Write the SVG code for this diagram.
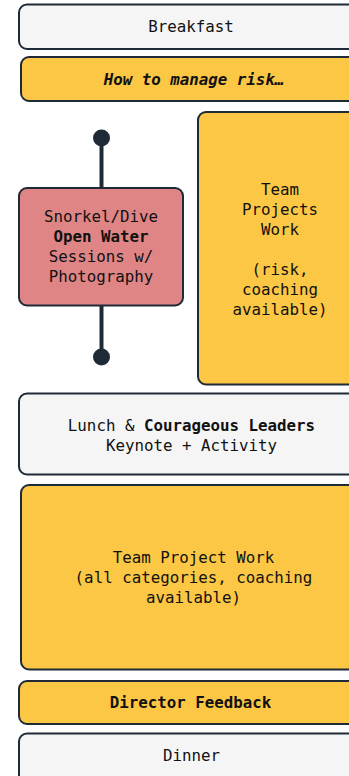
<svg xmlns="http://www.w3.org/2000/svg" width="349" height="776" viewBox="0 0 349 776">
<style>
.box{stroke:#1f2a37;stroke-width:2}
.gray{fill:#f5f5f5}
.yellow{fill:#fcc744}
.pink{fill:#e08585}
text{font-family:"DejaVu Sans Mono","Liberation Mono",monospace;font-size:15.8px;fill:#111;text-anchor:middle}
.b{font-weight:bold}
.bi{font-weight:bold;font-style:italic}
.conn{stroke:#1f2a37;stroke-width:4;fill:none}
.dot{fill:#1f2a37}
</style>
<rect width="349" height="776" fill="#ffffff"/>
<g id="connectors">
<line class="conn" x1="101.5" y1="138" x2="101.5" y2="189"/>
<line class="conn" x1="101.5" y1="305" x2="101.5" y2="357"/>
<circle class="dot" cx="101.5" cy="138" r="8.5"/>
<circle class="dot" cx="101.5" cy="357" r="8.5"/>
</g>
<g id="breakfast">
<rect class="box gray" x="19" y="4.5" width="360" height="44.5" rx="8"/>
<text x="191" y="32">Breakfast</text>
</g>
<g id="risk">
<rect class="box yellow" x="21" y="57" width="360" height="44" rx="8"/>
<text class="bi" x="194" y="84.5">How to manage risk…</text>
</g>
<g id="snorkel">
<rect class="box pink" x="19" y="188" width="164" height="117.5" rx="8"/>
<text x="101" y="222">Snorkel/Dive</text>
<text class="b" x="101" y="242">Open Water</text>
<text x="101" y="262">Sessions w/</text>
<text x="101" y="282">Photography</text>
</g>
<g id="team-projects">
<rect class="box yellow" x="198" y="112" width="200" height="272.5" rx="8"/>
<text x="280" y="194.5">Team</text>
<text x="280" y="214.5">Projects</text>
<text x="280" y="234.5">Work</text>
<text x="280" y="274.5">(risk,</text>
<text x="280" y="294.5">coaching</text>
<text x="280" y="314.5">available)</text>
</g>
<g id="lunch">
<rect class="box gray" x="19" y="393.5" width="360" height="81" rx="8"/>
<text x="191.5" y="430.5">Lunch &amp; <tspan class="b">Courageous Leaders</tspan></text>
<text x="191.5" y="450.5">Keynote + Activity</text>
</g>
<g id="team-project-work">
<rect class="box yellow" x="21" y="485" width="360" height="184.5" rx="8"/>
<text x="193.5" y="563">Team Project Work</text>
<text x="193.5" y="583">(all categories, coaching</text>
<text x="193.5" y="603">available)</text>
</g>
<g id="director">
<rect class="box yellow" x="19" y="681" width="360" height="43" rx="8"/>
<text class="b" x="190.5" y="707.5">Director Feedback</text>
</g>
<g id="dinner">
<rect class="box gray" x="19" y="733.5" width="360" height="60" rx="8"/>
<text x="191.5" y="760.5">Dinner</text>
</g>
</svg>
